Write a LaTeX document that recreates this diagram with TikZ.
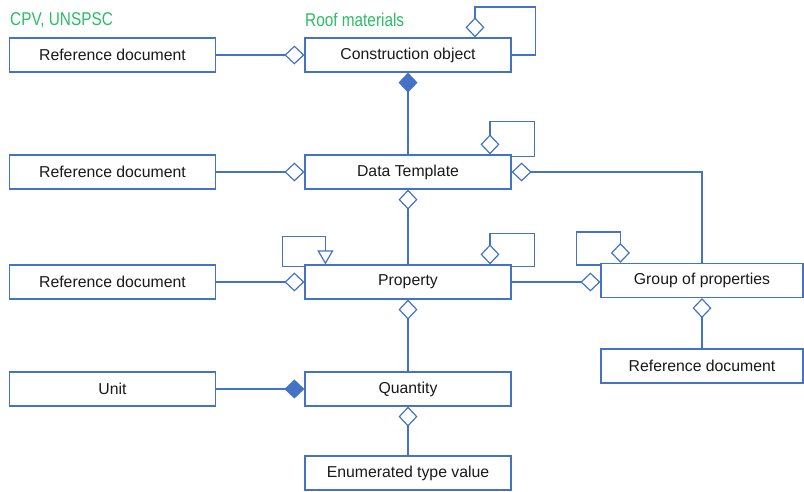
\documentclass[tikz,border=0pt]{standalone}
\usepackage{fontspec}
\setmainfont{Liberation Sans}
\newfontfamily\narrowfont[FakeStretch=0.83]{Liberation Sans}
\usetikzlibrary{arrows.meta,calc}
\definecolor{umlblue}{RGB}{68,114,196}
\definecolor{lblgreen}{RGB}{40,190,100}
\begin{document}
\begin{tikzpicture}[x=1pt,y=-1pt,
 box/.style={draw=umlblue,line width=1.2pt,minimum width=206pt,minimum height=34pt,inner sep=0pt,font=\fontsize{15.8}{18}\selectfont,text=black!90},
 link/.style={draw=umlblue,line width=1.2pt},
 agg/.style={link,-{Diamond[open,length=20pt,width=19pt]}},
 comp/.style={link,-{Diamond[fill=umlblue,length=20pt,width=19pt]}},
 gen/.style={link,-{Triangle[open,length=14pt,width=16pt]}},
 lbl/.style={font=\narrowfont\fontsize{18.5}{21}\selectfont,text=lblgreen,inner sep=0pt,anchor=west}]
\useasboundingbox (0,0) rectangle (804,491);
\node[lbl] (l1) at (10,20) {CPV, UNSPSC};
\node[lbl] (l2) at (305,20) {Roof materials};
\node[box] (rd1) at (112.5,55) {Reference document};
\node[box] (co) at (408,55) {Construction object};
\node[box] (rd2) at (112.5,172) {Reference document};
\node[box] (dt) at (408,172) {Data Template};
\node[box] (rd3) at (112.5,282) {Reference document};
\node[box] (pr) at (408,282) {Property};
\node[box,minimum width=202pt] (gp) at (702,280.5) {Group of properties};
\node[box,minimum width=202pt] (rd4) at (702,366) {Reference document};
\node[box] (un) at (112.5,389) {Unit};
\node[box] (qu) at (408,389) {Quantity};
\node[box] (en) at (408,473) {Enumerated type value};
% connectors
\draw[agg] (rd1) -- (co);
\draw[agg] (co.east) -- ++(24,0) -- ++(0,-48) -| ($(co.north)+(67,0)$);
\draw[comp] (dt.north) -- (co.south);
\draw[agg] (rd2) -- (dt);
\draw[agg] ($(dt.north east)+(0,2)$) -- ++(23,0) -- ++(0,-35) -| ($(dt.north)+(82,0)$);
\draw[agg] (gp.north) |- (dt.east);
\draw[agg] (pr.north) -- (dt.south);
\draw[agg] (rd3) -- (pr);
\draw[agg] ($(pr.north east)+(0,2)$) -- ++(23,0) -- ++(0,-33) -| ($(pr.north)+(82,0)$);
\draw[gen] ($(pr.north west)+(0,2)$) -- ++(-22,0) -- ++(0,-30) -| ($(pr.north west)+(21,0)$);
\draw[agg] (pr.east) -- (pr.east -| gp.west);
\draw[agg] ($(gp.north west)+(0,2)$) -- ++(-24,0) -- ++(0,-33) -| ($(gp.north west)+(20,0)$);
\draw[agg] (rd4.north) -- (gp.south);
\draw[agg] (qu.north) -- (pr.south);
\draw[comp] (un) -- (qu);
\draw[agg] (en.north) -- (qu.south);
\end{tikzpicture}
\end{document}
